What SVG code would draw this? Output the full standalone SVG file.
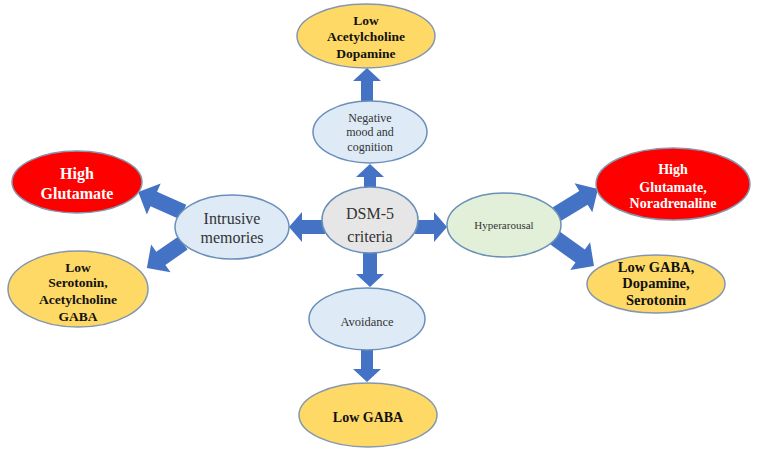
<svg xmlns="http://www.w3.org/2000/svg" width="762" height="457" viewBox="0 0 762 457">
<style>
.arr{fill:#4472C4}
.blue{fill:#DEEBF7;stroke:#6A8FB8;stroke-width:1.5}
.gray{fill:#E7E6E6;stroke:#6A8FB8;stroke-width:1.5}
.green{fill:#E2F0D9;stroke:#6A8FB8;stroke-width:1.5}
.yel{fill:#FFD966;stroke:#8497B0;stroke-width:1.5}
.red{fill:#FF0000;stroke:#8497B0;stroke-width:1.5}
text{font-family:"Liberation Serif","Times New Roman",serif;text-anchor:middle}
.b{font-weight:bold;fill:#111}
.w{font-weight:bold;fill:#fff}
.n{fill:#333}
</style>
<rect width="762" height="457" fill="#fff"/>
<g id="connectors">
<path class="arr" d="M0,-6 H18 V-14 L31,0 L18,14 V6 H0 Z" transform="translate(370,195) rotate(-90)"/>
<path class="arr" d="M0,-6 H21 V-14 L34,0 L21,14 V6 H0 Z" transform="translate(367,102) rotate(-90)"/>
<path class="arr" d="M0,-7 H23 V-15 L36,0 L23,15 V7 H0 Z" transform="translate(325,227) rotate(180)"/>
<path class="arr" d="M0,-7 H19 V-15 L32,0 L19,15 V7 H0 Z" transform="translate(415,227)"/>
<path class="arr" d="M0,-7 H24 V-14 L37,0 L24,14 V7 H0 Z" transform="translate(370,250) rotate(90)"/>
<path class="arr" d="M0,-6 H21 V-14 L34,0 L21,14 V6 H0 Z" transform="translate(367,348) rotate(90)"/>
<path class="arr" d="M0,-8 H32 V-17 L49,0 L32,17 V8 H0 Z" transform="translate(183,212) rotate(204)"/>
<path class="arr" d="M0,-8 H27 V-17 L44,0 L27,17 V8 H0 Z" transform="translate(183,243) rotate(145.2)"/>
<path class="arr" d="M0,-8 H31 V-17 L48,0 L31,17 V8 H0 Z" transform="translate(557,214) rotate(-31.4)"/>
<path class="arr" d="M0,-8 H31 V-17 L48,0 L31,17 V8 H0 Z" transform="translate(555,238) rotate(35.7)"/>
</g>
<g id="dsm5">
<ellipse class="gray" cx="370" cy="220" rx="48" ry="33"/>
<text class="n" x="370" y="219" font-size="16">DSM-5</text>
<text class="n" x="370" y="242" font-size="16">criteria</text>
</g>
<g id="negative">
<ellipse class="blue" cx="370" cy="132" rx="57" ry="31"/>
<text class="n" x="370" y="122" font-size="12">Negative</text>
<text class="n" x="370" y="136" font-size="12">mood and</text>
<text class="n" x="370" y="151" font-size="12">cognition</text>
</g>
<g id="lowAchDop">
<ellipse class="yel" cx="366" cy="36" rx="69" ry="32"/>
<text class="b" x="366" y="25" font-size="13.5">Low</text>
<text class="b" x="366" y="41" font-size="13.5">Acetylcholine</text>
<text class="b" x="366" y="58" font-size="13.5">Dopamine</text>
</g>
<g id="intrusive">
<ellipse class="blue" cx="232" cy="227" rx="57" ry="32"/>
<text class="n" x="232" y="224" font-size="16">Intrusive</text>
<text class="n" x="232" y="243" font-size="16">memories</text>
</g>
<g id="highGluLeft">
<ellipse class="red" cx="77" cy="182" rx="65" ry="31"/>
<text class="w" x="77" y="179" font-size="16">High</text>
<text class="w" x="77" y="199" font-size="16">Glutamate</text>
</g>
<g id="lowSer">
<ellipse class="yel" cx="78" cy="289" rx="70" ry="38"/>
<text class="b" x="78" y="272" font-size="13.5">Low</text>
<text class="b" x="78" y="287" font-size="13.5">Serotonin,</text>
<text class="b" x="78" y="304" font-size="13.5">Acetylcholine</text>
<text class="b" x="78" y="321" font-size="13.5">GABA</text>
</g>
<g id="hyperarousal">
<ellipse class="green" cx="504" cy="225" rx="57" ry="32"/>
<text class="n" x="504" y="229" font-size="11">Hyperarousal</text>
</g>
<g id="highGluRight">
<ellipse class="red" cx="673" cy="184" rx="77" ry="36"/>
<text class="w" x="673" y="174" font-size="14">High</text>
<text class="w" x="673" y="192" font-size="14">Glutamate,</text>
<text class="w" x="673" y="208" font-size="14">Noradrenaline</text>
</g>
<g id="lowGabaRight">
<ellipse class="yel" cx="656" cy="284" rx="69" ry="29"/>
<text class="b" x="656" y="272" font-size="14.5">Low GABA,</text>
<text class="b" x="656" y="288" font-size="14.5">Dopamine,</text>
<text class="b" x="656" y="305" font-size="14.5">Serotonin</text>
</g>
<g id="avoidance">
<ellipse class="blue" cx="367" cy="319" rx="58" ry="31"/>
<text class="n" x="367" y="326" font-size="12.5">Avoidance</text>
</g>
<g id="lowGaba">
<ellipse class="yel" cx="368" cy="415" rx="69" ry="32"/>
<text class="b" x="368" y="422" font-size="14">Low GABA</text>
</g>
</svg>
